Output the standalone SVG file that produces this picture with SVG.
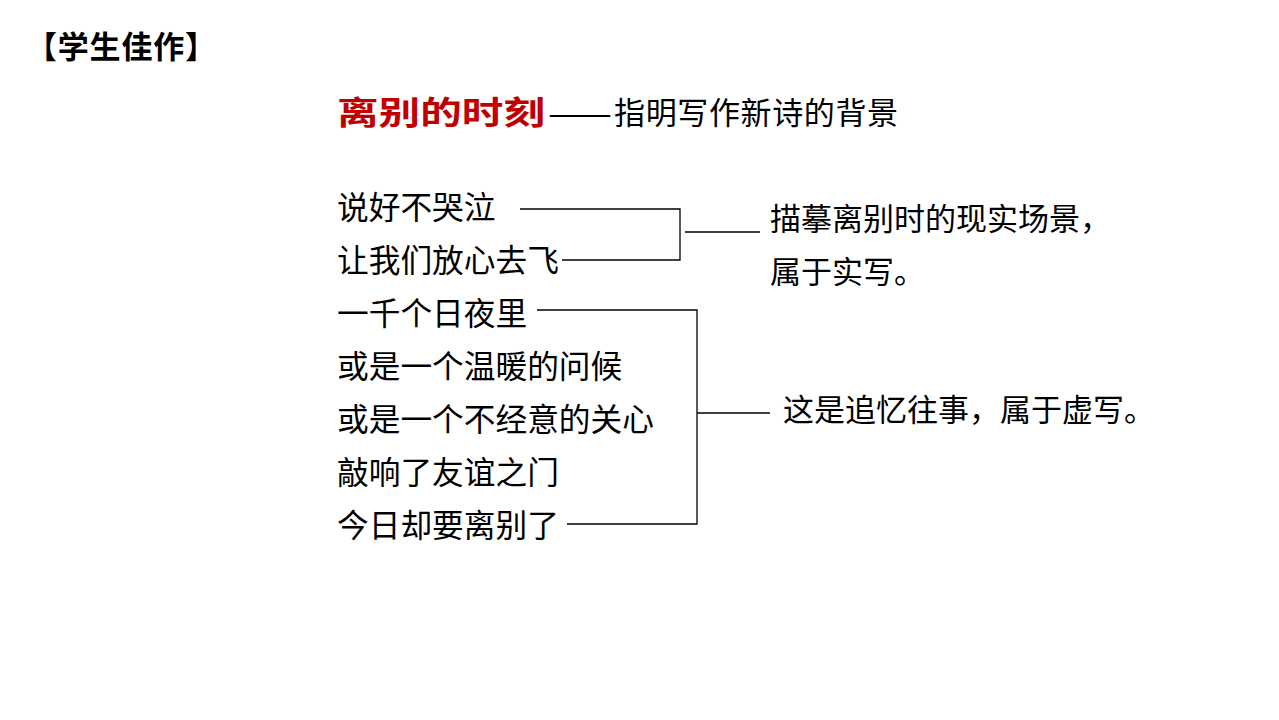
<svg xmlns="http://www.w3.org/2000/svg" width="1279" height="720" viewBox="0 0 1279 720">
<style>
text{font-family:"Noto Sans CJK SC","Liberation Sans",sans-serif;fill:#000}
.p{font-size:31.7px}
.r{font-size:31px}
.c{stroke:#000;stroke-width:1.3;fill:none}
</style>
<rect width="1279" height="720" fill="#fff"/>
<g id="header"><text x="26" y="58" font-size="31" font-weight="bold" textLength="190">【学生佳作】</text></g>
<g id="title">
<text x="337" y="124" font-size="32" font-weight="bold" style="fill:#c00000" textLength="208" lengthAdjust="spacingAndGlyphs">离别的时刻</text>
<text x="548" y="124" font-size="30" textLength="64" lengthAdjust="spacingAndGlyphs">——</text>
<text x="614" y="124" font-size="31" textLength="284">指明写作新诗的背景</text>
</g>
<g id="poem">
<text class="p" x="337" y="219">说好不哭泣</text>
<text class="p" x="337" y="272">让我们放心去飞</text>
<text class="p" x="337" y="325">一千个日夜里</text>
<text class="p" x="337" y="378">或是一个温暖的问候</text>
<text class="p" x="337" y="431">或是一个不经意的关心</text>
<text class="p" x="337" y="484">敲响了友谊之门</text>
<text class="p" x="337" y="537">今日却要离别了</text>
</g>
<g id="note1">
<text class="r" x="770" y="230">描摹离别时的现实场景，</text>
<text class="r" x="770" y="283">属于实写。</text>
</g>
<g id="note2"><text class="r" x="783" y="421">这是追忆往事，属于虚写。</text></g>
<g id="connectors">
<path class="c" d="M520 209H680V260H562M685 232H760"/>
<path class="c" d="M537 310H697V524H567M697 413H770"/>
</g>
</svg>
